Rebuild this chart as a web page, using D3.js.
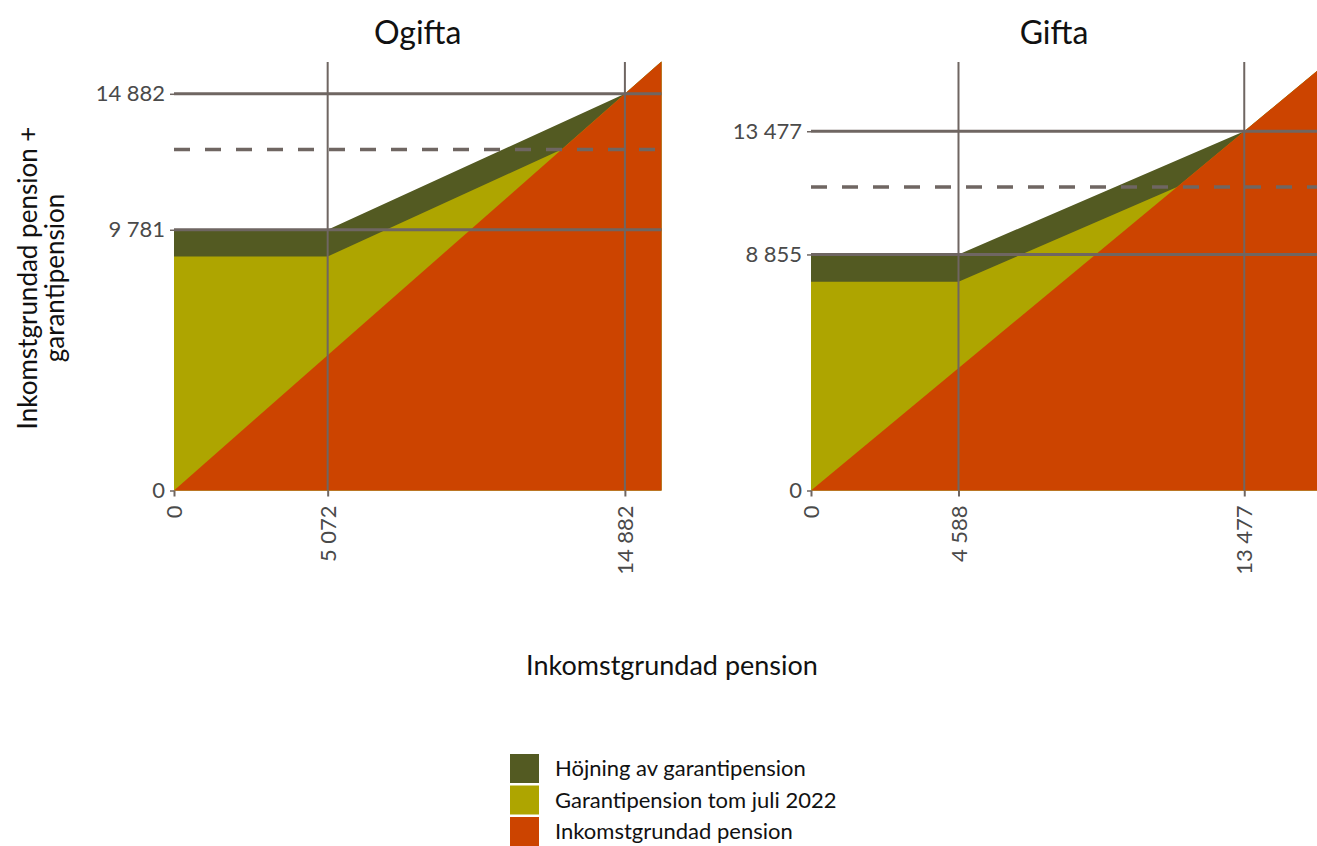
<!DOCTYPE html>
<html>
<head>
<meta charset="utf-8">
<script src="https://cdn.jsdelivr.net/npm/d3@7"></script>
<style>
  body { margin: 0; background: #fff; }
  svg { font-family: Lato, "Open Sans", sans-serif; }
</style>
</head>
<body>
<svg id="chart" width="1317" height="846"></svg>
<script>
// pension panels: ogifta / gifta
const PANELS = ["Ogifta", "Gifta"];
const X_MAX = [16090, 15740];
const Y_MAX = 16075;
const BREAK_X = [5072, 4588];
const CEILING = [14882, 13477];
const NEW_LEVEL = [9781, 8855];
const OLD_LEVEL = [8779, 7831];
const OLD_END = [12790, 11390];

const SERIES = ["Höjning av garantipension", "Garantipension tom juli 2022", "Inkomstgrundad pension"];
const COLORS = ["#535a22", "#aea500", "#cc4400"];
const LINE = "#6f6662";

const PANEL_X = [[174, 661.5], [811, 1317]];
const PANEL_Y = [490.5, 62];

const fmt = (v) => d3.format(",")(v).replace(/,/g, "\u2005");

const svg = d3.select("#chart");

PANELS.forEach((name, i) => {
  const x = d3.scaleLinear().domain([0, X_MAX[i]]).range(PANEL_X[i]);
  const y = d3.scaleLinear().domain([0, Y_MAX]).range(PANEL_Y);
  const xm = X_MAX[i];

  const newLine = [[0, NEW_LEVEL[i]], [BREAK_X[i], NEW_LEVEL[i]], [CEILING[i], CEILING[i]], [xm, xm]];
  const oldLine = [[0, OLD_LEVEL[i]], [BREAK_X[i], OLD_LEVEL[i]], [OLD_END[i], OLD_END[i]], [xm, xm]];
  const incLine = [[0, 0], [xm, xm]];

  const area = d3.area().x((d) => x(d[0])).y0(y(0)).y1((d) => y(d[1]));
  const g = svg.append("g");

  [newLine, oldLine, incLine].forEach((pts, k) => {
    g.append("path").attr("d", area(pts)).attr("fill", COLORS[k]);
  });

  // vertical reference lines
  [BREAK_X[i], CEILING[i]].forEach((v) => {
    g.append("line")
      .attr("x1", x(v)).attr("x2", x(v))
      .attr("y1", PANEL_Y[1]).attr("y2", y(0))
      .attr("stroke", LINE).attr("stroke-width", 2);
  });

  // horizontal reference lines
  [NEW_LEVEL[i], CEILING[i]].forEach((v) => {
    g.append("line")
      .attr("x1", PANEL_X[i][0]).attr("x2", PANEL_X[i][1])
      .attr("y1", y(v)).attr("y2", y(v))
      .attr("stroke", LINE).attr("stroke-width", 3);
  });

  g.append("line")
    .attr("x1", PANEL_X[i][0]).attr("x2", PANEL_X[i][1])
    .attr("y1", y(OLD_END[i])).attr("y2", y(OLD_END[i]))
    .attr("stroke", LINE).attr("stroke-width", 3.5)
    .attr("stroke-dasharray", "16 15");

  // axes
  const yAxis = g.append("g")
    .attr("transform", `translate(${PANEL_X[i][0]},0)`)
    .call(d3.axisLeft(y).tickValues([0, NEW_LEVEL[i], CEILING[i]]).tickFormat(fmt).tickSize(4).tickPadding(5));
  yAxis.select(".domain").remove();
  yAxis.selectAll("line").attr("stroke", LINE).attr("stroke-width", 1.5);
  yAxis.selectAll("text").attr("font-size", 22).attr("fill", "#4a4a4a").attr("font-family", "Lato");

  const xAxis = g.append("g")
    .attr("transform", `translate(0,${y(0)})`)
    .call(d3.axisBottom(x).tickValues([0, BREAK_X[i], CEILING[i]]).tickFormat(fmt).tickSize(6));
  xAxis.select(".domain").remove();
  xAxis.selectAll("line").attr("stroke", LINE).attr("stroke-width", 2);
  xAxis.selectAll("text")
    .attr("font-size", 22).attr("fill", "#4a4a4a").attr("font-family", "Lato")
    .attr("transform", "rotate(-90)")
    .attr("x", -15).attr("y", 0).attr("dy", "0.35em")
    .attr("text-anchor", "end");

  svg.append("text")
    .attr("x", (PANEL_X[i][0] + PANEL_X[i][1]) / 2 - (i === 1 ? 10 : 0))
    .attr("y", 44)
    .attr("text-anchor", "middle")
    .attr("font-size", 32)
    .attr("fill", "#111")
    .text(name);
});

// axis titles
const yTitle = svg.append("text")
  .attr("transform", "translate(41,278) rotate(-90)")
  .attr("text-anchor", "middle")
  .attr("font-size", 26)
  .attr("fill", "#111");
yTitle.append("tspan").attr("x", 0).attr("dy", "-0.15em").text("Inkomstgrundad pension +");
yTitle.append("tspan").attr("x", 0).attr("dy", "1.05em").text("garantipension");

svg.append("text")
  .attr("x", 672).attr("y", 675)
  .attr("text-anchor", "middle")
  .attr("font-size", 27)
  .attr("fill", "#111")
  .text("Inkomstgrundad pension");

// legend
const legend = svg.append("g").attr("transform", "translate(510,754)");
SERIES.forEach((s, k) => {
  legend.append("rect")
    .attr("x", 0).attr("y", k * 31.5)
    .attr("width", 29).attr("height", 29)
    .attr("fill", COLORS[k]);
  legend.append("text")
    .attr("x", 45).attr("y", k * 31.5 + 22)
    .attr("font-size", 22)
    .attr("fill", "#111")
    .text(s);
});
</script>
</body>
</html>
